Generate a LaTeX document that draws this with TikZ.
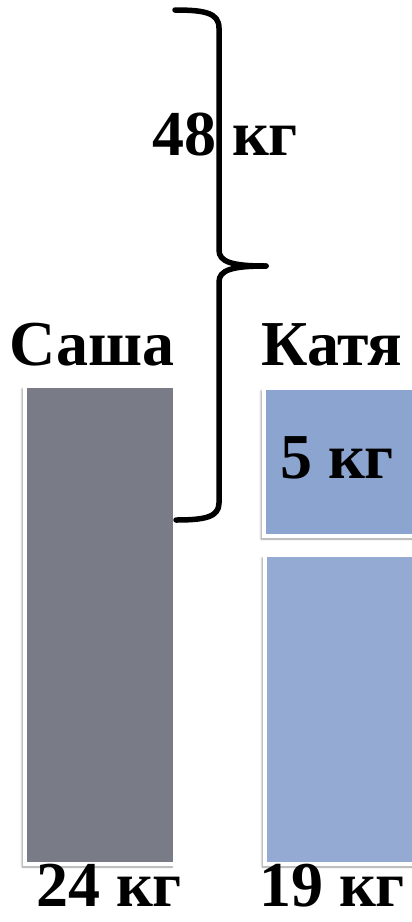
\documentclass[tikz,border=0pt]{standalone}
\usepackage{fontspec}
\setmainfont{Liberation Serif}
\usetikzlibrary{shadows.blur}
\definecolor{sashagray}{HTML}{797C86}
\definecolor{katyablue}{HTML}{8CA5D0}
\definecolor{katyablue2}{HTML}{94AAD3}
\tikzset{
  lbl/.style={font=\fontsize{64}{64}\selectfont\bfseries, anchor=base, inner sep=0pt},
  bar/.style={draw=white, line width=4pt, blur shadow={shadow xshift=-3pt, shadow yshift=-3pt, shadow blur steps=6, shadow opacity=40}},
  bracepath/.style={line width=5.5pt, line cap=round, line join=round}
}
\begin{document}
\begin{tikzpicture}[x=1pt,y=-1pt]
\useasboundingbox (0,0) rectangle (412,922);
% bars
\path[bar, fill=sashagray] (25,386) rectangle (175,864);
\path[bar, fill=katyablue] (264,388) rectangle (420,536);
\path[bar, fill=katyablue2] (265,555) rectangle (420,864);
% brace
\coordinate (bt) at (175,10);
\coordinate (bm) at (266,266);
\coordinate (bb) at (176,520);
\draw[bracepath] (bt) .. controls (205,10) and (219,13) .. (219,28) -- (219,250)
  .. controls (219,262) and (232,266) .. (bm);
\draw[bracepath] (bm) .. controls (232,266) and (219,270) .. (219,282) -- (219,503)
  .. controls (219,517) and (205,520) .. (bb);
% labels
\node[lbl] (total) at (225,155) {48 кг};
\node[lbl] (sasha) at (92,365) {Саша};
\node[lbl] (katya) at (332,365) {Катя};
\node[lbl] (five) at (337,478) {5 кг};
\node[lbl] (s24) at (109,906) {24 кг};
\node[lbl] (k19) at (332,906) {19 кг};
\end{tikzpicture}
\end{document}
